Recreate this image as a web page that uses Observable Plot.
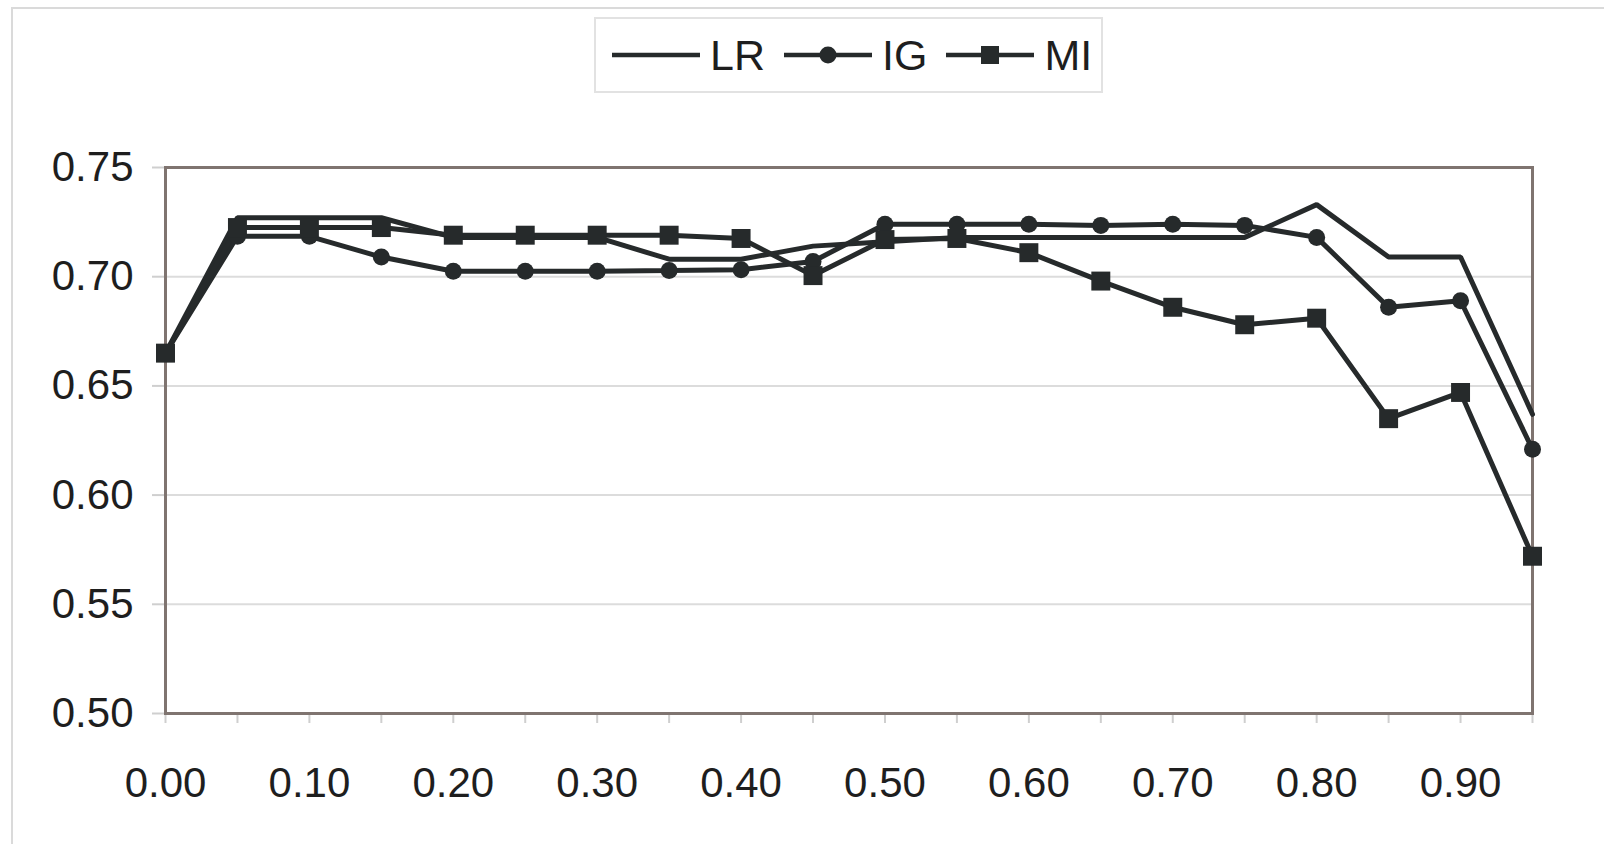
<!DOCTYPE html>
<html>
<head>
<meta charset="utf-8">
<script src="https://cdn.jsdelivr.net/npm/d3@7"></script>
<script src="https://cdn.jsdelivr.net/npm/@observablehq/plot@0.6"></script>
<style>
  html, body { margin: 0; padding: 0; background: #fff; overflow: hidden; }
  #wrap { position: relative; width: 1604px; height: 844px; font-family: "Liberation Sans", Arial, Helvetica, sans-serif; }
  #outer { position: absolute; left: 11px; top: 7px; width: 1700px; height: 900px; border-top: 2px solid #dadada; border-left: 2px solid #dadada; box-sizing: border-box; }
  #chart { position: absolute; left: 0; top: 0; }
  #legend { position: absolute; left: 594px; top: 17px; width: 509px; height: 76px; box-sizing: border-box; border: 2px solid #e2e2e2; background: #fff;
            display: flex; align-items: center; padding-left: 16px; color: #1e1e1e; font-size: 43px; }
  #legend .item { display: flex; align-items: center; margin-right: 19px; }
  #legend svg { display: block; margin-right: 10px; }
</style>
</head>
<body>
<div id="wrap">
  <div id="outer"></div>
  <div id="chart"></div>
  <div id="legend"></div>
</div>
<script>
// ---- data ----
const xCats = ["0.00","0.05","0.10","0.15","0.20","0.25","0.30","0.35","0.40","0.45",
               "0.50","0.55","0.60","0.65","0.70","0.75","0.80","0.85","0.90","0.95"];
const xLabels = ["0.00","0.10","0.20","0.30","0.40","0.50","0.60","0.70","0.80","0.90"];
const yTicks = [0.50, 0.55, 0.60, 0.65, 0.70, 0.75];
const gridTicks = [0.55, 0.60, 0.65, 0.70];
const seriesNames = ["LR", "IG", "MI"];
const lrValues = [0.665, 0.727, 0.727, 0.727, 0.718, 0.718, 0.718, 0.708, 0.708, 0.714,
                  0.716, 0.718, 0.718, 0.718, 0.718, 0.718, 0.733, 0.709, 0.709, 0.637];
const igValues = [0.665, 0.7185, 0.7185, 0.709, 0.7025, 0.7025, 0.7025, 0.7028, 0.7032, 0.707,
                  0.724, 0.724, 0.724, 0.7235, 0.724, 0.7235, 0.718, 0.686, 0.689, 0.621];
const miValues = [0.665, 0.7225, 0.7225, 0.7225, 0.719, 0.719, 0.719, 0.719, 0.7175, 0.7005,
                  0.717, 0.7175, 0.711, 0.698, 0.686, 0.678, 0.681, 0.635, 0.647, 0.572];

const ink = "#262a2b";
const seriesValues = {LR: lrValues, IG: igValues, MI: miValues};
const data = seriesNames.flatMap(s => xCats.map((x, i) => ({series: s, x, y: seriesValues[s][i]})));
const labelSet = new Set(xLabels);

const chart = Plot.plot({
  width: 1604,
  height: 844,
  marginLeft: 165,
  marginRight: 72,
  marginTop: 167,
  marginBottom: 131,
  style: {fontFamily: "Liberation Sans, Arial, Helvetica, sans-serif", fontSize: "42px", background: "transparent", color: "#1e1e1e"},
  x: {type: "point", domain: xCats, padding: 0, round: false},
  y: {domain: [0.5, 0.75]},
  marks: [
    Plot.gridY(gridTicks, {stroke: "#dcdcdc", strokeOpacity: 1, strokeWidth: 2}),
    Plot.axisY(yTicks, {tickFormat: d3.format(".2f"), tickSize: 13, tickPadding: 19, stroke: "#cfcfcf", strokeWidth: 2, fill: "#1e1e1e", fontSize: 42, label: null}),
    Plot.axisX(xCats, {tickFormat: d => labelSet.has(d) ? d : "", tickSize: 10, tickPadding: 44, stroke: "#cfcfcf", strokeWidth: 2, fill: "#1e1e1e", fontSize: 42, label: null}),
    Plot.frame({stroke: "#7f7470", strokeWidth: 3}),
    Plot.line(data, {x: "x", y: "y", z: "series", stroke: ink, strokeWidth: 5, strokeLinejoin: "miter"}),
    Plot.dot(data.filter(d => d.series === "IG"), {x: "x", y: "y", r: 8.5, symbol: "circle", fill: ink, stroke: "none"}),
    Plot.dot(data.filter(d => d.series === "MI"), {x: "x", y: "y", r: 10.7, symbol: "square", fill: ink, stroke: "none"})
  ]
});
document.getElementById("chart").appendChild(chart);

// ---- legend ----
const legend = document.getElementById("legend");
const markerFor = {
  LR: "",
  IG: `<circle cx="44" cy="14" r="8.5" fill="${ink}"/>`,
  MI: `<rect x="35" y="5" width="18" height="18" fill="${ink}"/>`
};
seriesNames.forEach(s => {
  const item = document.createElement("div");
  item.className = "item";
  item.innerHTML = `<svg width="88" height="28"><line x1="0" x2="88" y1="14" y2="14" stroke="${ink}" stroke-width="4.5"/>${markerFor[s]}</svg><span>${s}</span>`;
  legend.appendChild(item);
});
</script>
</body>
</html>
